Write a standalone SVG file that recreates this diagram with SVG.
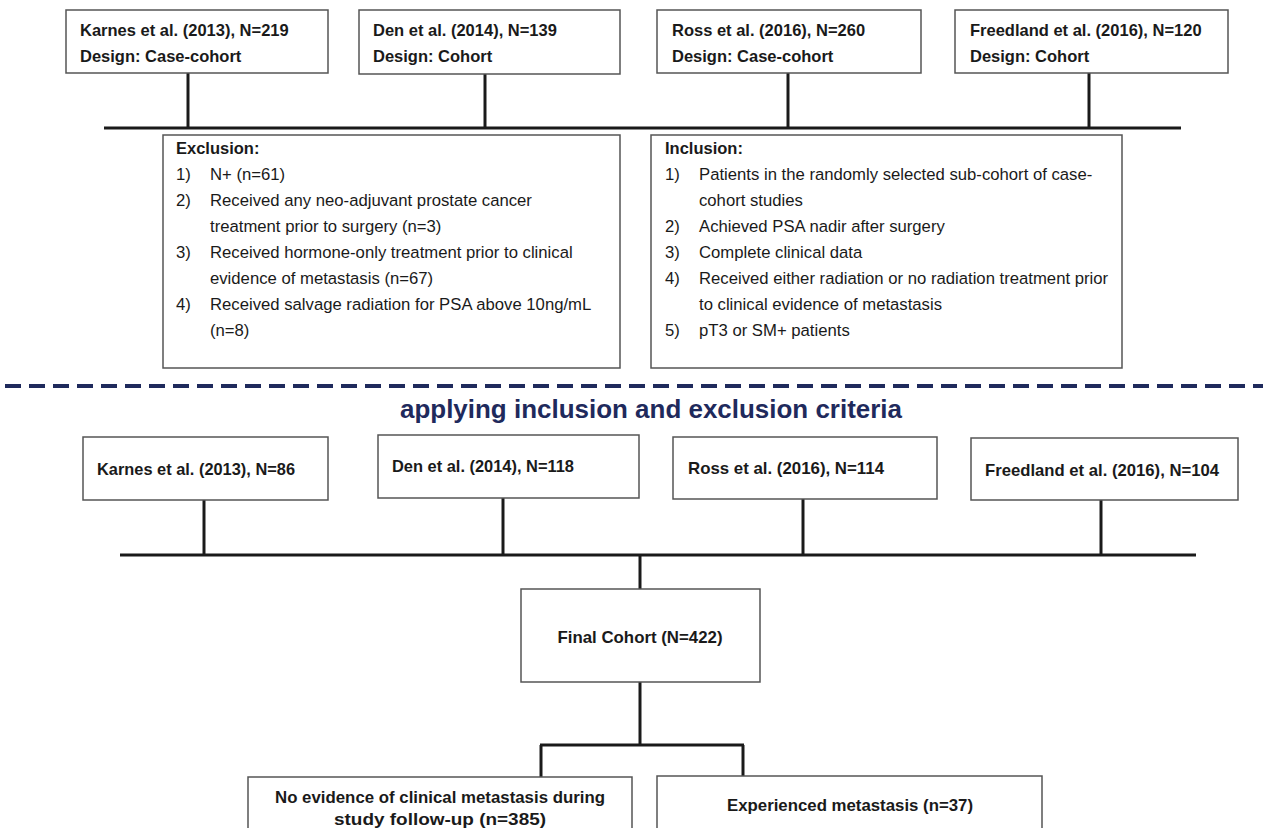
<svg xmlns="http://www.w3.org/2000/svg" width="1263" height="828" viewBox="0 0 1263 828">
<style>
.box{fill:#fff;stroke:#555;stroke-width:1.5}
.ln{stroke:#1a1a1a;stroke-width:3;fill:none}
.hd{font-family:"Liberation Sans",Arial,sans-serif;font-weight:bold;font-size:16.5px;fill:#1a1a1a}
.sh{font-family:"Liberation Sans",Arial,sans-serif;font-weight:bold;font-size:16.5px;fill:#1a1a1a}
.tx{font-family:"Liberation Sans",Arial,sans-serif;font-size:16.7px;fill:#1a1a1a}
.cd{font-family:"Liberation Sans",Arial,sans-serif;font-weight:bold;font-size:17px;fill:#1a1a1a}
.ti{font-family:"Liberation Sans",Arial,sans-serif;font-weight:bold;font-size:25px;fill:#1f2a5c}
</style>
<rect width="1263" height="828" fill="#fff"/>
<g id="connectors">
<line class="ln" x1="188" y1="73" x2="188" y2="128"/>
<line class="ln" x1="485" y1="74" x2="485" y2="128"/>
<line class="ln" x1="788" y1="73" x2="788" y2="128"/>
<line class="ln" x1="1089" y1="73" x2="1089" y2="128"/>
<line class="ln" x1="104" y1="128" x2="1181" y2="128"/>
<line class="ln" x1="204" y1="500" x2="204" y2="555"/>
<line class="ln" x1="503" y1="498" x2="503" y2="555"/>
<line class="ln" x1="803" y1="499" x2="803" y2="555"/>
<line class="ln" x1="1101" y1="500" x2="1101" y2="555"/>
<line class="ln" x1="120" y1="555" x2="1196" y2="555"/>
<line class="ln" x1="640" y1="555" x2="640" y2="589"/>
<line class="ln" x1="640" y1="682" x2="640" y2="745"/>
<line class="ln" x1="540" y1="745" x2="744" y2="745"/>
<line class="ln" x1="541" y1="745" x2="541" y2="777"/>
<line class="ln" x1="743" y1="745" x2="743" y2="776"/>
</g>
<g id="divider">
<line x1="5" y1="386" x2="1263" y2="386" stroke="#1f2a5c" stroke-width="4" stroke-dasharray="16 8"/>
<text class="ti" x="651" y="418" text-anchor="middle" textLength="502" lengthAdjust="spacingAndGlyphs">applying inclusion and exclusion criteria</text>
</g>
<g id="study1"><rect class="box" x="66" y="10" width="262" height="63"/>
<text class="hd" x="80" y="36">Karnes et al. (2013), N=219</text>
<text class="hd" x="80" y="62">Design: Case-cohort</text></g>
<g id="study2"><rect class="box" x="359" y="10" width="261" height="64"/>
<text class="hd" x="373" y="36">Den et al. (2014), N=139</text>
<text class="hd" x="373" y="62">Design: Cohort</text></g>
<g id="study3"><rect class="box" x="657" y="10" width="264" height="63"/>
<text class="hd" x="672" y="36">Ross et al. (2016), N=260</text>
<text class="hd" x="672" y="62">Design: Case-cohort</text></g>
<g id="study4"><rect class="box" x="955" y="10" width="273" height="63"/>
<text class="hd" x="970" y="36">Freedland et al. (2016), N=120</text>
<text class="hd" x="970" y="62">Design: Cohort</text></g>
<g id="exclusion"><rect class="box" x="163" y="135" width="457" height="233"/>
<text class="sh" x="176" y="154">Exclusion:</text>
<text class="tx" x="176" y="180">1)</text><text class="tx" x="210" y="180">N+ (n=61)</text>
<text class="tx" x="176" y="206">2)</text><text class="tx" x="210" y="206">Received any neo-adjuvant prostate cancer</text>
<text class="tx" x="210" y="232">treatment prior to surgery (n=3)</text>
<text class="tx" x="176" y="258">3)</text><text class="tx" x="210" y="258">Received hormone-only treatment prior to clinical</text>
<text class="tx" x="210" y="284">evidence of metastasis (n=67)</text>
<text class="tx" x="176" y="310">4)</text><text class="tx" x="210" y="310">Received salvage radiation for PSA above 10ng/mL</text>
<text class="tx" x="210" y="336">(n=8)</text></g>
<g id="inclusion"><rect class="box" x="651" y="135" width="471" height="233"/>
<text class="sh" x="665" y="154">Inclusion:</text>
<text class="tx" x="665" y="180">1)</text><text class="tx" x="699" y="180">Patients in the randomly selected sub-cohort of case-</text>
<text class="tx" x="699" y="206">cohort studies</text>
<text class="tx" x="665" y="232">2)</text><text class="tx" x="699" y="232">Achieved PSA nadir after surgery</text>
<text class="tx" x="665" y="258">3)</text><text class="tx" x="699" y="258">Complete clinical data</text>
<text class="tx" x="665" y="284">4)</text><text class="tx" x="699" y="284">Received either radiation or no radiation treatment prior</text>
<text class="tx" x="699" y="310">to clinical evidence of metastasis</text>
<text class="tx" x="665" y="336">5)</text><text class="tx" x="699" y="336">pT3 or SM+ patients</text></g>
<g id="final1"><rect class="box" x="83" y="437" width="245" height="63"/>
<text class="cd" x="97" y="475" textLength="198" lengthAdjust="spacingAndGlyphs">Karnes et al. (2013), N=86</text></g>
<g id="final2"><rect class="box" x="378" y="435" width="261" height="63"/>
<text class="cd" x="392" y="472" textLength="182" lengthAdjust="spacingAndGlyphs">Den et al. (2014), N=118</text></g>
<g id="final3"><rect class="box" x="673" y="437" width="264" height="62"/>
<text class="cd" x="688" y="474" textLength="196" lengthAdjust="spacingAndGlyphs">Ross et al. (2016), N=114</text></g>
<g id="final4"><rect class="box" x="971" y="438" width="267" height="62"/>
<text class="cd" x="985" y="476" textLength="234" lengthAdjust="spacingAndGlyphs">Freedland et al. (2016), N=104</text></g>
<g id="cohort"><rect class="box" x="521" y="589" width="239" height="93"/>
<text class="cd" x="640" y="643" text-anchor="middle" textLength="165" lengthAdjust="spacingAndGlyphs">Final Cohort (N=422)</text></g>
<g id="nometa"><rect class="box" x="248" y="777" width="384" height="60"/>
<text class="cd" x="440" y="803" text-anchor="middle" textLength="330" lengthAdjust="spacingAndGlyphs">No evidence of clinical metastasis during</text>
<text class="cd" x="440" y="825" text-anchor="middle" textLength="212" lengthAdjust="spacingAndGlyphs">study follow-up (n=385)</text></g>
<g id="meta"><rect class="box" x="657" y="776" width="385" height="60"/>
<text class="cd" x="850" y="811" text-anchor="middle" textLength="246" lengthAdjust="spacingAndGlyphs">Experienced metastasis (n=37)</text></g>
</svg>
